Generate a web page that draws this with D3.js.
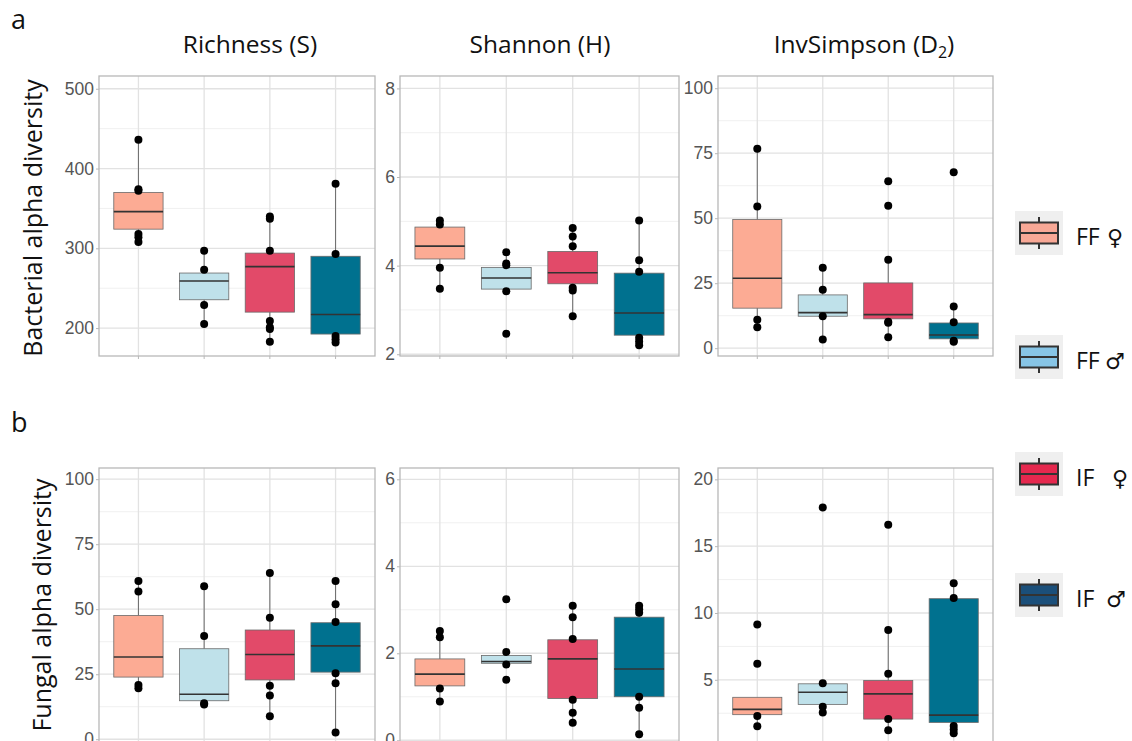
<!DOCTYPE html>
<html>
<head>
<meta charset="utf-8">
<script src="https://cdn.jsdelivr.net/npm/d3@7"></script>
<style>
  body { margin: 0; background: #fff; }
  svg { display: block; }
</style>
</head>
<body>
<svg id="chart" width="1132" height="741"></svg>
<script>
// groups, in plot order
const groups = ["FF♀", "FF♂", "IF♀", "IF♂"];
const boxColors = ["#fcab94", "#bfe1ea", "#e24a69", "#00718f"];
const legendColors = ["#f8a896", "#87c5e6", "#e5284e", "#1b4f7a"];

// box stats per group: [lower whisker, q1, median, q3, upper whisker]
const bactRichStats = [[307, 324, 346, 370, 436], [205, 235.5, 259, 269, 297], [183, 220, 277, 294, 340], [182, 192.5, 217, 290, 381]];
const bactRichPts = [[436, 374, 372, 318, 314, 308], [297, 273, 229, 205], [340, 337, 297, 209, 201, 199, 183], [381, 293, 190, 186, 182]];
const bactRichTicks = [200, 300, 400, 500];
const bactRichDomain = [165, 516];

const bactShanStats = [[3.48, 4.15, 4.44, 4.87, 5.02], [3.42, 3.47, 3.72, 3.96, 4.30], [2.86, 3.59, 3.84, 4.32, 4.85], [2.20, 2.43, 2.93, 3.83, 5.02]];
const bactShanPts = [[5.02, 4.93, 3.95, 3.48], [4.30, 4.05, 4.01, 3.42, 2.46], [4.85, 4.66, 4.44, 3.50, 3.44, 2.86], [5.02, 4.12, 3.86, 2.37, 2.29, 2.20]];
const bactShanTicks = [2, 4, 6, 8];
const bactShanDomain = [1.96, 8.28];

const bactInvStats = [[8.1, 15.4, 26.9, 49.5, 76.7], [3.3, 12.3, 13.7, 20.5, 30.9], [4.2, 11.3, 12.9, 25.1, 34.0], [2.5, 3.6, 5.1, 9.7, 16.0]];
const bactInvPts = [[76.7, 54.5, 10.9, 8.1], [30.9, 22.5, 12.3, 3.3], [64.2, 54.8, 34.0, 10.2, 9.8, 4.2], [67.7, 16.0, 10.0, 2.9, 2.5]];
const bactInvTicks = [0, 25, 50, 75, 100];
const bactInvDomain = [-3, 104.7];

const fungRichStats = [[19.6, 23.9, 31.6, 47.6, 60.8], [13.4, 14.8, 17.3, 34.8, 58.8], [8.8, 22.8, 32.6, 42.0, 63.9], [2.6, 25.8, 35.9, 44.8, 60.8]];
const fungRichPts = [[60.8, 56.8, 20.9, 19.6], [58.8, 39.7, 13.8, 13.4], [63.9, 46.7, 20.6, 16.8, 8.8], [60.8, 51.9, 45.1, 25.4, 21.5, 2.6]];
const fungRichTicks = [0, 25, 50, 75, 100];
const fungRichDomain = [-12.6, 104.3];

const fungShanStats = [[0.89, 1.25, 1.52, 1.87, 2.51], [1.74, 1.77, 1.81, 1.95, 2.03], [0.40, 0.96, 1.87, 2.31, 3.09], [0.14, 1.00, 1.64, 2.83, 3.09]];
const fungShanPts = [[2.51, 2.37, 1.19, 0.89], [3.24, 2.03, 1.74, 1.39], [3.09, 2.83, 2.33, 0.93, 0.63, 0.40], [3.09, 3.01, 2.93, 1.00, 0.75, 0.14]];
const fungShanTicks = [0, 2, 4, 6];
const fungShanDomain = [-0.73, 6.26];

const fungInvStats = [[1.53, 2.39, 2.79, 3.69, 3.69], [2.56, 3.16, 4.07, 4.70, 4.75], [1.23, 2.06, 3.95, 4.95, 8.72], [1.00, 1.81, 2.36, 11.07, 12.23]];
const fungInvPts = [[9.14, 6.21, 2.29, 1.53], [17.9, 4.75, 2.99, 2.56], [16.6, 8.72, 5.45, 2.06, 1.23], [12.23, 11.13, 1.55, 1.28, 1.0]];
const fungInvTicks = [5, 10, 15, 20];
const fungInvDomain = [-1.9, 20.85];

const titles = ["Richness (S)", "Shannon (H)", "InvSimpson (D"];
const rowLabels = ["Bacterial alpha diversity", "Fungal alpha diversity"];

// layout
const colX = [[99, 375], [400, 679], [718, 993]];
const rowY = [[76, 356], [468, 772]];

const panels = [
  { r: 0, c: 0, stats: bactRichStats, pts: bactRichPts, ticks: bactRichTicks, domain: bactRichDomain },
  { r: 0, c: 1, stats: bactShanStats, pts: bactShanPts, ticks: bactShanTicks, domain: bactShanDomain },
  { r: 0, c: 2, stats: bactInvStats, pts: bactInvPts, ticks: bactInvTicks, domain: bactInvDomain },
  { r: 1, c: 0, stats: fungRichStats, pts: fungRichPts, ticks: fungRichTicks, domain: fungRichDomain },
  { r: 1, c: 1, stats: fungShanStats, pts: fungShanPts, ticks: fungShanTicks, domain: fungShanDomain },
  { r: 1, c: 2, stats: fungInvStats, pts: fungInvPts, ticks: fungInvTicks, domain: fungInvDomain },
];

const svg = d3.select("#chart");
svg.append("rect").attr("width", 1132).attr("height", 741).attr("fill", "#fff");

panels.forEach((p, i) => {
  const [x0, x1] = colX[p.c], [y0, y1] = rowY[p.r];
  const x = d3.scalePoint().domain(groups).range([x0, x1]).padding(0.6);
  const y = d3.scaleLinear().domain(p.domain).range([y1, y0]);
  const bw = x.step() * 0.75;
  const g = svg.append("g");

  g.append("clipPath").attr("id", "clip" + i)
    .append("rect").attr("x", x0).attr("y", y0).attr("width", x1 - x0).attr("height", y1 - y0);
  const grid = g.append("g").attr("clip-path", "url(#clip" + i + ")");

  // minor grid halfway between major ticks
  const step = p.ticks[1] - p.ticks[0];
  const minor = d3.range(p.ticks[0] - step / 2, p.ticks[p.ticks.length - 1] + step, step)
    .filter(v => v > p.domain[0] && v < p.domain[1]);
  grid.selectAll(".minor").data(minor).enter().append("line")
    .attr("x1", x0).attr("x2", x1).attr("y1", d => y(d)).attr("y2", d => y(d))
    .attr("stroke", "#f0f0f0").attr("stroke-width", 1);
  grid.selectAll(".major").data(p.ticks).enter().append("line")
    .attr("x1", x0).attr("x2", x1).attr("y1", d => y(d)).attr("y2", d => y(d))
    .attr("stroke", "#e2e2e2").attr("stroke-width", 1.3);
  grid.selectAll(".vmajor").data(groups).enter().append("line")
    .attr("x1", d => x(d)).attr("x2", d => x(d)).attr("y1", y0).attr("y2", y1)
    .attr("stroke", "#e2e2e2").attr("stroke-width", 1.3);

  // boxes
  const box = grid.selectAll(".box").data(p.stats).enter().append("g");
  box.append("line")
    .attr("x1", (d, j) => x(groups[j])).attr("x2", (d, j) => x(groups[j]))
    .attr("y1", d => y(d[4])).attr("y2", d => y(d[3]))
    .attr("stroke", "#6a6a6a").attr("stroke-width", 1);
  box.append("line")
    .attr("x1", (d, j) => x(groups[j])).attr("x2", (d, j) => x(groups[j]))
    .attr("y1", d => y(d[1])).attr("y2", d => y(d[0]))
    .attr("stroke", "#6a6a6a").attr("stroke-width", 1);
  box.append("rect")
    .attr("x", (d, j) => x(groups[j]) - bw / 2).attr("width", bw)
    .attr("y", d => y(d[3])).attr("height", d => y(d[1]) - y(d[3]))
    .attr("fill", (d, j) => boxColors[j]).attr("stroke", "#6a6a6a").attr("stroke-width", 0.8);
  box.append("line")
    .attr("x1", (d, j) => x(groups[j]) - bw / 2).attr("x2", (d, j) => x(groups[j]) + bw / 2)
    .attr("y1", d => y(d[2])).attr("y2", d => y(d[2]))
    .attr("stroke", "#333").attr("stroke-width", 1.6);

  // points on top
  p.pts.forEach((vals, j) => {
    grid.selectAll(".pt" + j).data(vals).enter().append("circle")
      .attr("cx", x(groups[j])).attr("cy", d => y(d)).attr("r", 4).attr("fill", "#000");
  });

  g.append("rect").attr("x", x0).attr("y", y0).attr("width", x1 - x0).attr("height", y1 - y0)
    .attr("fill", "none").attr("stroke", "#b8b8b8").attr("stroke-width", 1.3);

  const ax = g.append("g").attr("transform", "translate(" + x0 + ",0)")
    .call(d3.axisLeft(y).tickValues(p.ticks).tickFormat(d3.format("d")).tickSize(3).tickPadding(2));
  ax.select(".domain").remove();
  ax.selectAll(".tick line").attr("stroke", "#b8b8b8");
  ax.selectAll(".tick text").attr("fill", "#555").attr("font-size", 17.5)
    .attr("font-family", "'Liberation Sans', Arial, sans-serif");

  // small ticks under the panel
  g.selectAll(".xt").data(groups).enter().append("line")
    .attr("x1", d => x(d)).attr("x2", d => x(d)).attr("y1", y1).attr("y2", y1 + 3)
    .attr("stroke", "#b8b8b8");
});

const font = "'Open Sans', 'Noto Sans', sans-serif";

// column titles
const titleX = [250, 540, 864];
titles.forEach((t, i) => {
  const tx = svg.append("text").attr("x", titleX[i]).attr("y", 53).attr("text-anchor", "middle")
    .attr("font-family", font).attr("font-size", 24.5).attr("fill", "#111").text(t);
  if (i == 2) {
    tx.append("tspan").attr("font-size", 16).attr("dy", 5).text("2");
    tx.append("tspan").attr("dy", -5).text(")");
  }
});

// panel letters
svg.append("text").attr("x", 11).attr("y", 29).attr("font-family", font).attr("font-size", 27).attr("fill", "#111").text("a");
svg.append("text").attr("x", 11).attr("y", 432).attr("font-family", font).attr("font-size", 27).attr("fill", "#111").text("b");

// row titles
const rowLabelPos = [[42, 218], [51, 605]];
rowLabels.forEach((t, i) => {
  svg.append("text")
    .attr("transform", "translate(" + rowLabelPos[i][0] + "," + rowLabelPos[i][1] + ") rotate(-90)")
    .attr("text-anchor", "middle").attr("font-family", font).attr("font-size", 25).attr("fill", "#111")
    .text(t);
});

// legend
const legendY = [233, 357, 474, 595];
const legendText = ["FF", "FF", "IF", "IF"];
const legendSym = ["♀", "♂", "♀", "♂"];
const symX = [1107, 1105, 1112, 1106];
groups.forEach((gname, i) => {
  const cy = legendY[i], cx = 1039;
  const lg = svg.append("g");
  lg.append("rect").attr("x", cx - 24).attr("y", cy - 22).attr("width", 48).attr("height", 44).attr("fill", "#efefef");
  lg.append("line").attr("x1", cx).attr("x2", cx).attr("y1", cy - 16).attr("y2", cy + 16)
    .attr("stroke", "#333").attr("stroke-width", 2);
  lg.append("rect").attr("x", cx - 19).attr("y", cy - 10.5).attr("width", 38).attr("height", 21)
    .attr("fill", legendColors[i]).attr("stroke", "#333").attr("stroke-width", 2);
  lg.append("line").attr("x1", cx - 19).attr("x2", cx + 19).attr("y1", cy).attr("y2", cy)
    .attr("stroke", "#333").attr("stroke-width", 2);
  lg.append("text").attr("x", 1076).attr("y", cy + 12).attr("font-family", font).attr("font-size", 23)
    .attr("fill", "#111").text(legendText[i]);
  lg.append("text").attr("x", symX[i]).attr("y", cy + 12).attr("font-family", "'DejaVu Sans', sans-serif")
    .attr("font-size", 22).attr("fill", "#111").text(legendSym[i]);
});
</script>
</body>
</html>
